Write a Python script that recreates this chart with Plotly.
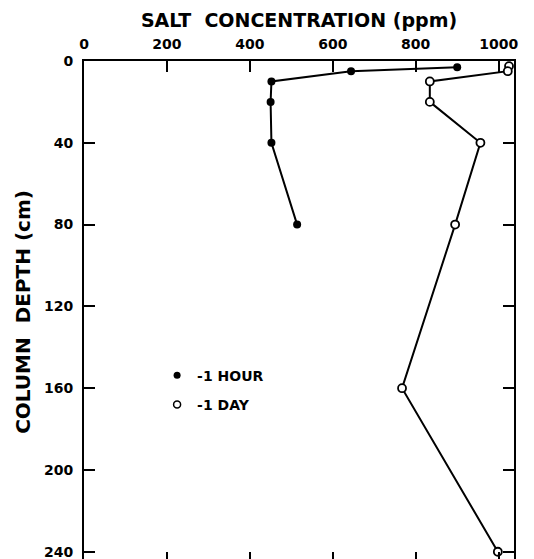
import plotly.graph_objects as go

depth_hour = [3, 5, 10, 20, 40, 80]
salt_hour = [900, 644, 452, 450, 452, 514]

depth_day = [2.5, 5, 10, 20, 40, 80, 160, 240]
salt_day = [1025, 1022, 834, 834, 956, 895, 767, 998]

x_ticks = [0, 200, 400, 600, 800, 1000]
y_ticks = [0, 40, 80, 120, 160, 200, 240]

FONT = "DejaVu Sans"
fig = go.Figure()

fig.add_trace(go.Scatter(
    x=salt_hour, y=depth_hour, mode="lines+markers",
    line=dict(color="black", width=2),
    marker=dict(symbol="circle", size=8, color="black"),
    showlegend=False, cliponaxis=False))
fig.add_trace(go.Scatter(
    x=salt_day, y=depth_day, mode="lines+markers",
    line=dict(color="black", width=2),
    marker=dict(symbol="circle", size=8, color="white",
                line=dict(color="black", width=1.8)),
    showlegend=False, cliponaxis=False))

fig.add_trace(go.Scatter(
    x=[None], y=[None], mode="markers", name="-1 HOUR", legendgroup="a",
    marker=dict(symbol="circle", size=7, color="black")))
fig.add_trace(go.Scatter(
    x=[None], y=[None], mode="markers", name="-1 DAY", legendgroup="b",
    marker=dict(symbol="circle", size=7, color="white",
                line=dict(color="black", width=1.5))))

axis_common = dict(
    showgrid=False, zeroline=False, showline=True, linecolor="black",
    linewidth=2, mirror="allticks", ticks="inside", ticklen=11,
    tickwidth=2, tickcolor="black",
    tickfont=dict(family=FONT, size=14, color="black", weight="bold"),
)

fig.update_layout(
    width=534, height=559,
    margin=dict(l=76, r=28, t=53, b=2),
    paper_bgcolor="white", plot_bgcolor="white",
    xaxis=dict(
        side="top", range=[0, 1037], tickvals=x_ticks, ticklabelstandoff=4,
        title=dict(text="SALT  CONCENTRATION (ppm)",
                   font=dict(family=FONT, size=19, color="black", weight="bold"),
                   standoff=4),
        **axis_common),
    yaxis=dict(
        range=[245.5, 0], tickvals=y_ticks, ticklabelstandoff=6,
        title=dict(text="COLUMN  DEPTH (cm)",
                   font=dict(family=FONT, size=20, color="black", weight="bold"),
                   standoff=8),
        **axis_common),
    legend=dict(x=0.17, y=0.405, xanchor="left", yanchor="top",
                bgcolor="rgba(0,0,0,0)", itemwidth=30,
                traceorder="grouped", tracegroupgap=8,
                font=dict(family=FONT, size=14, color="black", weight="bold")),
)

fig.write_html("out.html")
